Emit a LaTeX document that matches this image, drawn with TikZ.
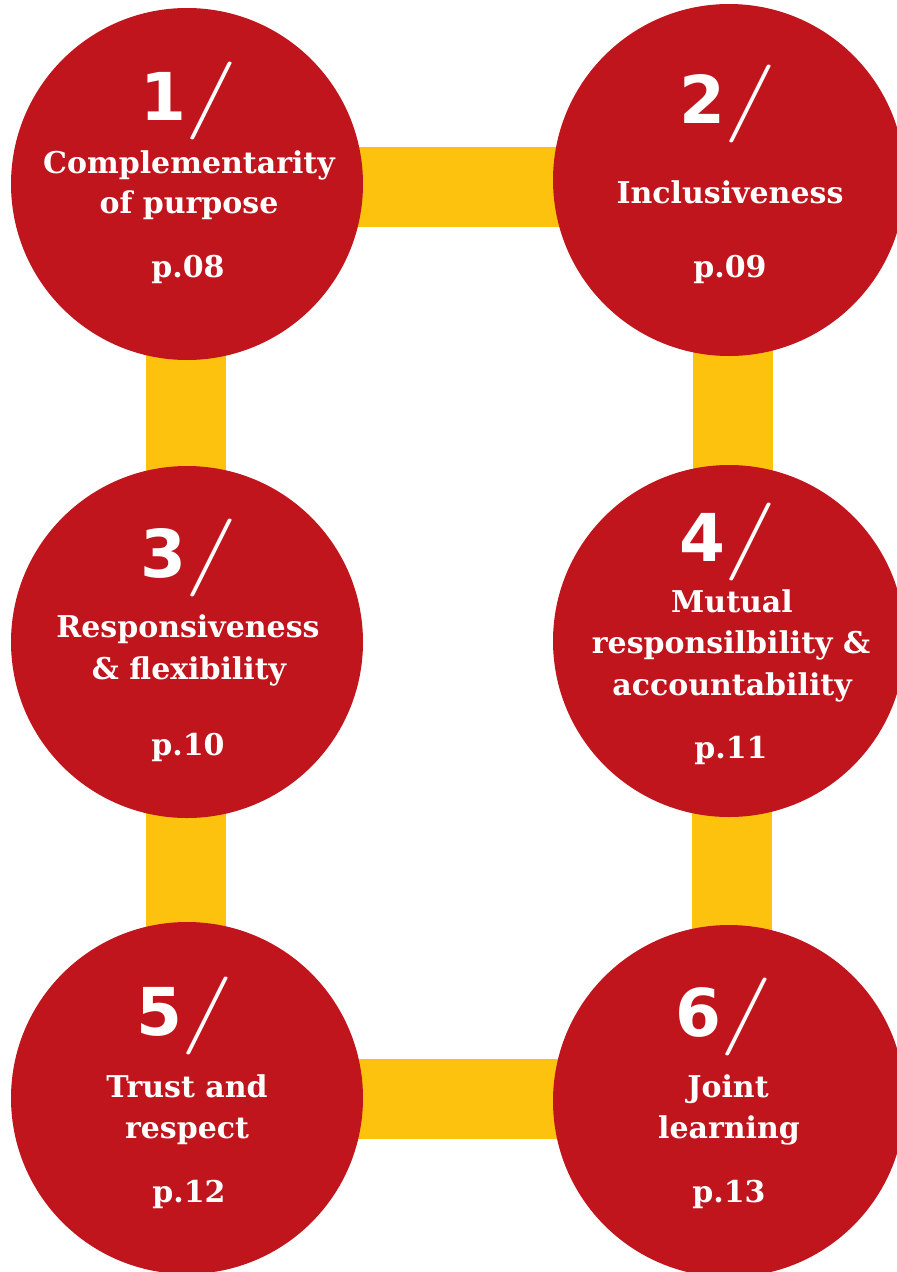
\documentclass[tikz,border=0pt]{standalone}
\usepackage{fontspec}
\usepackage{graphicx}
\setmainfont{DejaVu Serif}
\newfontfamily\digitfont{DejaVu Sans}
\newfontfamily\slashfont{Latin Modern Roman}
\usetikzlibrary{backgrounds}
\definecolor{discred}{RGB}{193,21,29}
\definecolor{baryellow}{RGB}{253,194,14}
\tikzset{
  disc/.style={circle, fill=discred, minimum size=352pt, inner sep=0pt, draw=none},
  bar/.style={draw=baryellow, line width=80pt, line cap=butt},
  num/.style={text=white, inner sep=0pt, anchor=base, font=\digitfont\bfseries\fontsize{66}{66}\selectfont},
  ttl/.style={text=white, inner sep=0pt, anchor=base, font=\bfseries\fontsize{30}{36}\selectfont},
  pg/.style={ttl}
}
\newcommand{\numsl}[1]{#1\kern-1pt{\slashfont\mdseries\fontsize{78}{78}\selectfont\scalebox{1.45}[1]{/}}}
\begin{document}
\begin{tikzpicture}[x=1pt,y=-1pt]
\useasboundingbox (0,0) rectangle (897,1272);
\node[disc] (c1) at (187,184) {};
\node[disc] (c2) at (729,180) {};
\node[disc] (c3) at (187,642) {};
\node[disc] (c4) at (729,641) {};
\node[disc] (c5) at (187,1098) {};
\node[disc] (c6) at (729,1101) {};
\begin{pgfonlayer}{background}
\draw[bar] ([yshift=-3pt]c1.center) -- ([yshift=-3pt]c1.center -| c2.center);
\draw[bar] ([xshift=-1.5pt]c1.center) -- ([xshift=-1.5pt]c1.center |- c3.center);
\draw[bar] ([xshift=-1.5pt]c3.center) -- ([xshift=-1.5pt]c3.center |- c5.center);
\draw[bar] ([xshift=3.5pt]c2.center) -- ([xshift=3.5pt]c2.center |- c4.center);
\draw[bar] ([xshift=2.5pt]c4.center) -- ([xshift=2.5pt]c4.center |- c6.center);
\draw[bar] ([yshift=-0.5pt]c5.center) -- ([yshift=-0.5pt]c5.center -| c6.center);
\end{pgfonlayer}
% circle 1
\node[num] (n1) at (188.5,120) {\numsl{1}};
\node[ttl] (t1a) at (189,173) {Complementarity};
\node[ttl] (t1b) at (189,213) {of purpose};
\node[pg] (p1) at (188,277) {p.08};
% circle 2
\node[num] (n2) at (728,123) {\numsl{2}};
\node[ttl] (t2a) at (730,203) {Inclusiveness};
\node[pg] (p2) at (730,277) {p.09};
% circle 3
\node[num] (n3) at (189,577) {\numsl{3}};
\node[ttl] (t3a) at (188,637) {Responsiveness};
\node[ttl] (t3b) at (189,679) {\& flexibility};
\node[pg] (p3) at (188,755) {p.10};
% circle 4
\node[num] (n4) at (728,561) {\numsl{4}};
\node[ttl] (t4a) at (732,612) {Mutual};
\node[ttl] (t4b) at (731,653) {responsilbility \&};
\node[ttl] (t4c) at (732,695) {accountability};
\node[pg] (p4) at (731,758) {p.11};
% circle 5
\node[num] (n5) at (185,1035) {\numsl{5}};
\node[ttl] (t5a) at (187,1097) {Trust and};
\node[ttl] (t5b) at (187,1138) {respect};
\node[pg] (p5) at (189,1202) {p.12};
% circle 6
\node[num] (n6) at (724,1036) {\numsl{6}};
\node[ttl] (t6a) at (728,1097) {Joint};
\node[ttl] (t6b) at (729,1138) {learning};
\node[pg] (p6) at (729,1202) {p.13};
\end{tikzpicture}
\end{document}
